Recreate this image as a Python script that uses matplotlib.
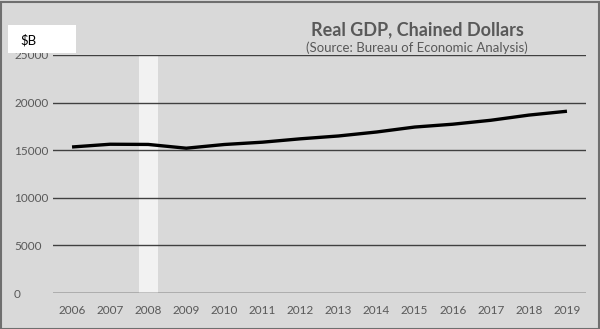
import matplotlib
matplotlib.use("Agg")
import matplotlib.pyplot as plt
from matplotlib.patches import Rectangle

years = ["2006", "2007", "2008", "2009", "2010", "2011", "2012",
         "2013", "2014", "2015", "2016", "2017", "2018", "2019"]
gdp = [15338, 15626, 15605, 15209, 15599, 15841, 16197,
       16495, 16912, 17432, 17730, 18144, 18688, 19092]
recession_years = ["2008"]
y_ticks = [0, 5000, 10000, 15000, 20000, 25000]

plt.rcParams['font.family'] = ['Lato', 'DejaVu Sans']
W, H = 600, 329
fig = plt.figure(figsize=(W / 100, H / 100), dpi=100, facecolor='#d9d9d9')
ax = fig.add_axes([53 / W, 1 - 293 / H, (586 - 53) / W, (293 - 55) / H])
ax.set_facecolor('#d9d9d9')

x = list(range(len(years)))
for ry in recession_years:
    i = years.index(ry)
    ax.bar(i, 25000, width=0.5, color='#f2f2f2', zorder=1)

for yt in y_ticks[1:]:
    ax.axhline(yt, color='#404040', lw=1.0, zorder=2)
ax.axhline(0, color='black', lw=1.0, zorder=2)

ax.plot(x, gdp, color='black', lw=2.4, zorder=3, solid_capstyle='butt')

ax.set_xlim(-0.5, len(years) - 0.5)
ax.set_ylim(0, 25000)
ax.set_xticks(x)
ax.set_xticklabels(years)
ax.set_yticks(y_ticks)
ax.set_yticklabels([str(v) for v in y_ticks])
for s in ax.spines.values():
    s.set_visible(False)
ax.tick_params(length=0, colors='#595959', labelsize=8.5)
ax.tick_params(axis='x', pad=9)
for lab in ax.get_yticklabels():
    lab.set_horizontalalignment('left')
ax.tick_params(axis='y', pad=28)
for lab in ax.get_xticklabels() + ax.get_yticklabels():
    lab.set_color('#595959')

fig.text(417 / W, 1 - 30 / H, "Real GDP, Chained Dollars", ha='center', va='center',
         fontsize=13, fontweight='bold', color='#595959')
fig.text(417 / W, 1 - 48 / H, "(Source: Bureau of Economic Analysis)", ha='center',
         va='center', fontsize=9.5, color='#595959')

fig.patches.append(Rectangle((8 / W, 1 - 53 / H), 68 / W, 28 / H, transform=fig.transFigure,
                             facecolor='white', edgecolor='none', zorder=5))
fig.text(20 / W, 1 - 40 / H, "$B", ha='left', va='center', fontsize=9.5,
         color='black', zorder=6)

fig.patches.append(Rectangle((0.5 / W, 0.5 / H), (W - 2) / W, (H - 2) / H,
                             transform=fig.transFigure, facecolor='none',
                             edgecolor='#6f6f6f', lw=1.5, zorder=10))

fig.savefig("out.png", dpi=100, facecolor=fig.get_facecolor())
